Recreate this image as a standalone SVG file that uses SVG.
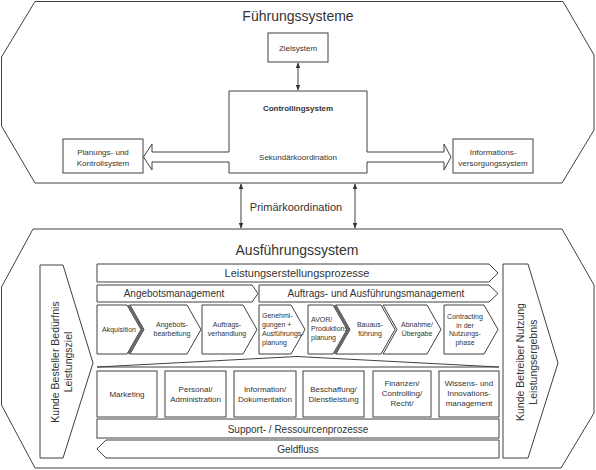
<svg xmlns="http://www.w3.org/2000/svg" width="596" height="470" viewBox="0 0 596 470">
<style>
.s{fill:#fff;stroke:#404040;stroke-width:1}
.ln{fill:none;stroke:#404040;stroke-width:1}
.t{font-family:"Liberation Sans",Arial,sans-serif;fill:#333}
.c{text-anchor:middle}
.f14{font-size:14px}
.f11{font-size:11px}
.f10{font-size:10px}
.f105{font-size:10.5px}
.f8{font-size:8px}
.f7{font-size:7px}
.b{font-weight:bold}
.sh{fill:none;stroke:#666;stroke-width:2.2}
</style>
<defs>
<marker id="ah" markerWidth="6" markerHeight="6" refX="5" refY="3" orient="auto-start-reverse" markerUnits="userSpaceOnUse">
<path d="M0,0.8 L5.5,3 L0,5.2 Z" fill="#333"/>
</marker>
</defs>
<rect width="596" height="470" fill="#fff"/>

<g id="fuehrungssysteme">
<polygon class="s" points="35,1.5 563,1.5 594,55 594,130 562,183 35,183 1.5,126 1.5,57"/>
<text class="t c f14" x="298" y="21">Führungssysteme</text>
</g>

<g id="ausfuehrungssystem">
<polygon class="s" points="33,229 562,229 594,285 594,413 561,468 35,468 1.5,405 1.5,287"/>
<text class="t c f14" x="297" y="255">Ausführungssystem</text>
</g>

<g id="zielsystem">
<rect class="s" x="268" y="33" width="60" height="29"/>
<text class="t c f8" x="298" y="50.5">Zielsystem</text>
</g>

<g id="controllingsystem">
<path class="s" d="M229,91 H367 V152 H444 V144 L451,157 L444,170 V162 H367 V173 H229 V162 H152 V170 L143.5,157 L152,144 V152 H229 Z"/>
<text class="t c f8 b" x="298" y="111">Controllingsystem</text>
<text class="t c f8" x="298" y="160">Sekundärkoordination</text>
</g>

<g id="planungssystem">
<rect class="s" x="63" y="139" width="80" height="34"/>
<text class="t c f8" x="103" y="155">Planungs- und</text>
<text class="t c f8" x="103" y="166">Kontrollsystem</text>
</g>

<g id="informationssystem">
<rect class="s" x="453" y="139" width="80" height="34"/>
<text class="t c f8" x="493" y="155">Informations-</text>
<text class="t c f8" x="493" y="165.5">versorgungssystem</text>
</g>

<g id="connectors">
<line class="ln" x1="298" y1="63" x2="298" y2="90" marker-start="url(#ah)" marker-end="url(#ah)"/>
<line class="ln" x1="241" y1="184" x2="241" y2="228" marker-start="url(#ah)" marker-end="url(#ah)"/>
<line class="ln" x1="355" y1="184" x2="355" y2="228" marker-start="url(#ah)" marker-end="url(#ah)"/>
</g>
<text class="t c f11" x="296" y="211">Primärkoordination</text>

<g id="kunde-besteller">
<polygon class="s" points="40,265 63,265 93,363 63,458 40,458"/>
<text class="t c f105" x="59" y="362" transform="rotate(-90 59 362)">Kunde Besteller Bedürfnis</text>
<text class="t c f105" x="72" y="362" transform="rotate(-90 72 362)">Leistungsziel</text>
</g>

<g id="kunde-betreiber">
<polygon class="s" points="503,264 528,264 558,363 528,458 503,458"/>
<text class="t c f105" x="524" y="362" transform="rotate(-90 524 362)">Kunde Betreiber Nutzung</text>
<text class="t c f105" x="537" y="362" transform="rotate(-90 537 362)">Leistungsergebnis</text>
</g>

<g id="leistungserstellungsprozesse">
<polygon class="s" points="97,264 489,264 498,273 489,282 97,282"/>
<text class="t c f11" x="297" y="277">Leistungserstellungsprozesse</text>
</g>

<g id="angebotsmanagement">
<polygon class="s" points="97,285 252,285 258,293.5 252,302 97,302"/>
<text class="t c f10" x="174" y="297">Angebotsmanagement</text>
</g>

<g id="auftragsmanagement">
<polygon class="s" points="259,285 489,285 498,293.5 489,302 259,302"/>
<text class="t c f10" x="376" y="297">Auftrags- und Ausführungsmanagement</text>
</g>

<g id="akquisition">
<polygon class="s" points="97,305 127,305 141,329.5 127,354 97,354"/>
<text class="t c f7" x="119" y="332">Akquisition</text>
</g>

<g id="angebotsbearbeitung">
<polygon class="s" points="130,305 187,305 201,329.5 187,354 130,354 144,329.5"/>
<polyline class="sh" points="128.5,305 142.5,329.5 128.5,354"/>
<text class="t c f7" x="172" y="326.5">Angebots-</text>
<text class="t c f7" x="172" y="336">bearbeitung</text>
</g>

<g id="auftragsverhandlung">
<polygon class="s" points="202,305 243,305 257,329.5 243,354 202,354"/>
<text class="t c f7" x="227" y="326.5">Auftrags-</text>
<text class="t c f7" x="227" y="336">verhandlung</text>
</g>

<g id="genehmigungen">
<polygon class="s" points="259,305 291,305 305,329.5 291,354 259,354"/>
<text class="t f7" x="262" y="317.5">Genehmi-</text>
<text class="t f7" x="262" y="326.5">gungen +</text>
<text class="t f7" x="262" y="335.5">Ausführungs-</text>
<text class="t f7" x="262" y="344.5">planung</text>
</g>

<g id="avor">
<polygon class="s" points="308,305 333,305 347,329.5 333,354 308,354"/>
<text class="t f7" x="311" y="321.5">AVOR/</text>
<text class="t f7" x="311" y="330.5">Produktions</text>
<text class="t f7" x="311" y="340">planung</text>
</g>

<g id="bauausfuehrung">
<polygon class="s" points="336,305 381,305 395,329.5 381,354 336,354 350,329.5"/>
<polyline class="sh" points="334.5,305 348.5,329.5 334.5,354"/>
<text class="t c f7" x="370" y="327">Bauaus-</text>
<text class="t c f7" x="370" y="336">führung</text>
</g>

<g id="abnahme">
<polygon class="s" points="383,305 427,305 441,329.5 427,354 383,354 397,329.5"/>
<text class="t c f7" x="417" y="327">Abnahme/</text>
<text class="t c f7" x="417" y="336">Übergabe</text>
</g>

<g id="contracting">
<polygon class="s" points="444,305 484,305 498,329.5 484,354 444,354"/>
<text class="t c f7" x="465" y="319">Contracting</text>
<text class="t c f7" x="465" y="327.5">in der</text>
<text class="t c f7" x="465" y="336">Nutzungs-</text>
<text class="t c f7" x="465" y="344.5">phase</text>
</g>

<g id="trichter">
<polygon class="s" points="97,367 297,356.5 499,367"/>
</g>

<g id="marketing">
<rect class="s" x="97" y="371" width="60" height="46"/>
<text class="t c f8" x="127" y="397">Marketing</text>
</g>
<g id="personal">
<rect class="s" x="165" y="371" width="61" height="46"/>
<text class="t c f8" x="195.5" y="392">Personal/</text>
<text class="t c f8" x="195.5" y="402">Administration</text>
</g>
<g id="information">
<rect class="s" x="234" y="371" width="62" height="46"/>
<text class="t c f8" x="265" y="392">Information/</text>
<text class="t c f8" x="265" y="402">Dokumentation</text>
</g>
<g id="beschaffung">
<rect class="s" x="303" y="371" width="61" height="46"/>
<text class="t c f8" x="333.5" y="392">Beschaffung/</text>
<text class="t c f8" x="333.5" y="402">Dienstleistung</text>
</g>
<g id="finanzen">
<rect class="s" x="373" y="371" width="58" height="46"/>
<text class="t c f8" x="402" y="386">Finanzen/</text>
<text class="t c f8" x="402" y="396">Controlling/</text>
<text class="t c f8" x="402" y="406">Recht/</text>
</g>
<g id="wissen">
<rect class="s" x="439" y="371" width="60" height="46"/>
<text class="t c f8" x="469" y="386">Wissens- und</text>
<text class="t c f8" x="469" y="396">Innovations-</text>
<text class="t c f8" x="469" y="406">management</text>
</g>

<g id="support">
<rect class="s" x="97" y="419" width="402" height="19"/>
<text class="t c f10" x="298" y="432.5">Support- / Ressourcenprozesse</text>
</g>

<g id="geldfluss">
<polygon class="s" points="97,449 106,440 499,440 499,458 106,458"/>
<text class="t c f10" x="298" y="452.5">Geldfluss</text>
</g>
</svg>
